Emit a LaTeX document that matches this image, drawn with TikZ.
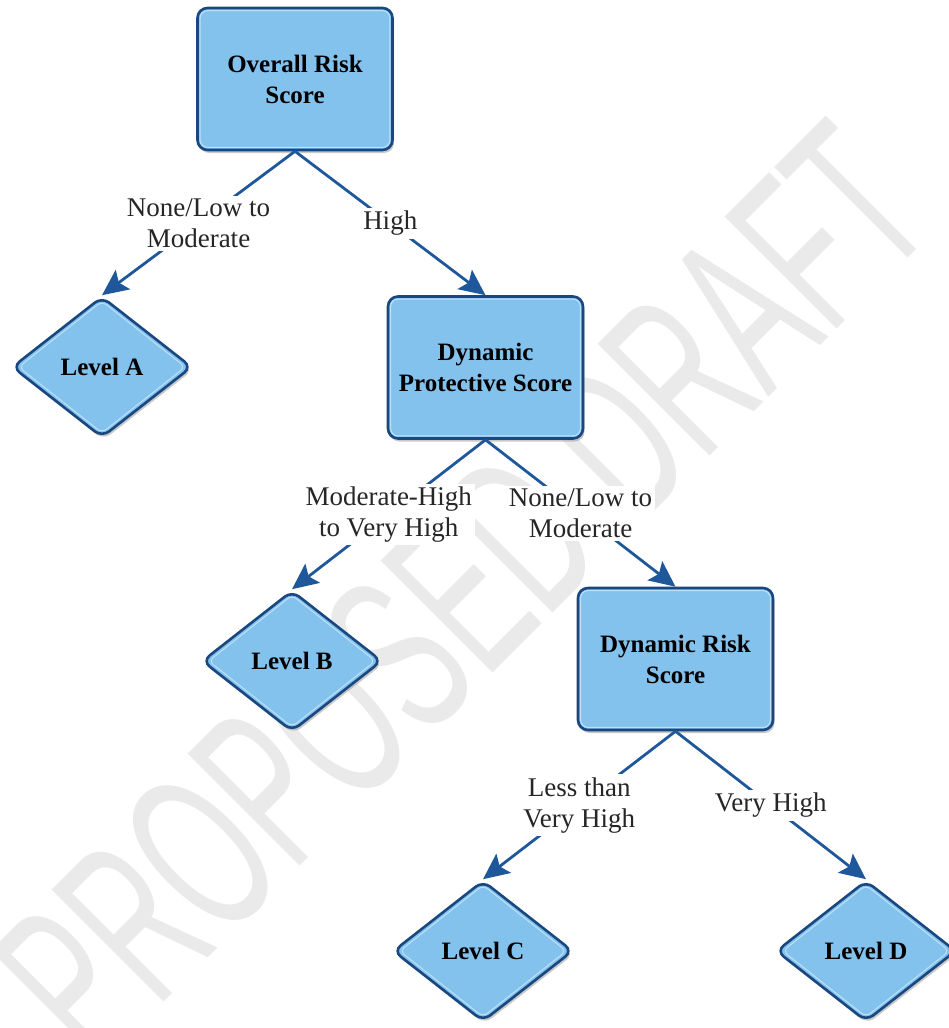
\documentclass[tikz,border=0pt]{standalone}
\usepackage{fontspec}
\setmainfont{Liberation Serif}
\setsansfont{Liberation Sans}
\usetikzlibrary{arrows.meta,shapes.geometric,shadows}
\definecolor{boxfill}{RGB}{132,194,238}
\definecolor{boxline}{RGB}{25,72,128}
\definecolor{arrowcol}{RGB}{30,88,155}
\definecolor{wmark}{RGB}{234,234,234}
\definecolor{hilite}{RGB}{190,225,250}
\begin{document}
\begin{tikzpicture}[x=1pt,y=-1pt,
  scorebox/.style={draw=boxline, line width=2.6pt, fill=boxfill, rounded corners=10pt,
    minimum width=195pt, minimum height=142pt, inner sep=0pt, align=center,
    font=\fontsize{25}{31}\selectfont\bfseries,
    drop shadow={shadow xshift=1.5pt, shadow yshift=-3pt, fill=gray!70, opacity=0.6}},
  levelbox/.style={diamond, draw=boxline, line width=2.6pt, fill=boxfill, rounded corners=9pt,
    minimum width=180pt, minimum height=141pt, inner sep=0pt,
    font=\fontsize{25}{31}\selectfont\bfseries,
    drop shadow={shadow xshift=1.5pt, shadow yshift=-3pt, fill=gray!70, opacity=0.6}},
  hl/.style={draw=hilite, line width=1pt},
  branch/.style={draw=arrowcol, line width=2.8pt, -{Stealth[length=26pt,width=24pt,inset=5pt]}},
  cond/.style={fill=white, inner sep=3pt, align=center, font=\fontsize{27}{31}\selectfont, text=black!85}
]
\useasboundingbox (0,0) rectangle (948,1028);
\fill[white] (0,0) rectangle (948,1028);

% watermark
\node[rotate=45, text=wmark, font=\fontsize{230}{230}\selectfont\sffamily] (wm) at (462,592)
  {\scalebox{0.56}[1]{PROPOSED DRAFT}};

% boxes
\node[scorebox] (b1) at (295,79) {Overall Risk\\Score};
\node[scorebox] (b2) at (485.5,367.5) {Dynamic\\Protective Score};
\node[scorebox] (b3) at (675.5,659) {Dynamic Risk\\Score};

% diamonds
\node[levelbox] (la) at (102,367) {Level A};
\node[levelbox] (lb) at (292,661) {Level B};
\node[levelbox] (lc) at (483,951) {Level C};
\node[levelbox] (ld) at (866,951) {Level D};

% inner highlights
\foreach \b in {b1,b2,b3}{
  \draw[hl, rounded corners=7pt] ([xshift=4pt,yshift=-4pt]\b.north west) rectangle ([xshift=-4pt,yshift=4pt]\b.south east);
}
\foreach \d in {la,lb,lc,ld}{
  \draw[hl, rounded corners=6pt] ([yshift=-6pt]\d.north) -- ([xshift=-8pt]\d.east) -- ([yshift=6pt]\d.south) -- ([xshift=8pt]\d.west) -- cycle;
}

% connectors
\draw[branch] (b1.south) -- node[cond] {None/Low to\\Moderate} (la.north);
\draw[branch] (b1.south) -- node[cond] {High} (b2.north);
\draw[branch] (b2.south) -- node[cond] {Moderate-High\\to Very High} (lb.north);
\draw[branch] (b2.south) -- node[cond] {None/Low to\\Moderate} (b3.north);
\draw[branch] (b3.south) -- node[cond] {Less than\\Very High} (lc.north);
\draw[branch] (b3.south) -- node[cond] {Very High} (ld.north);
\end{tikzpicture}
\end{document}
